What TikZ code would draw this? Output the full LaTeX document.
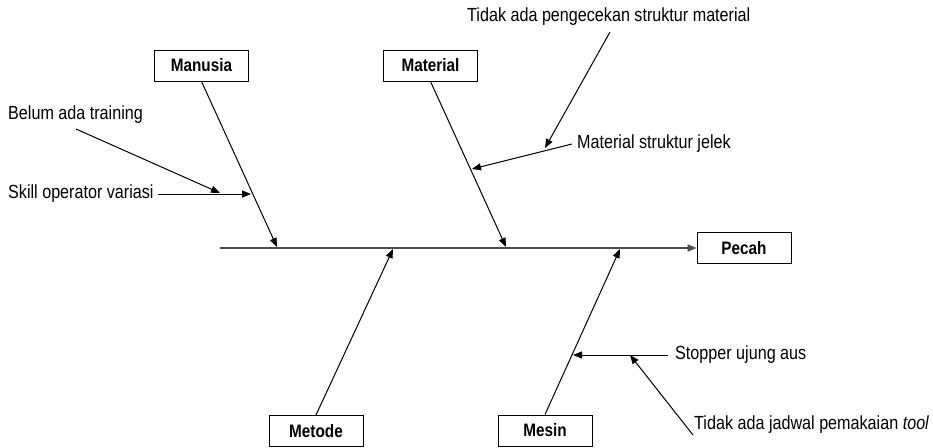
\documentclass[tikz,border=0pt]{standalone}
\usepackage{fontspec}
\setmainfont[FakeStretch=0.85]{Liberation Sans}
\usetikzlibrary{arrows.meta}
\begin{document}
\begin{tikzpicture}[x=1pt,y=-1pt,
  catbox/.style={draw,line width=1pt,minimum width=94pt,minimum height=31pt,
    inner sep=0pt,font=\fontsize{18}{21}\selectfont\bfseries},
  cause/.style={inner sep=0pt,anchor=west,font=\fontsize{19}{22}\selectfont},
  bone/.style={line width=1pt,-{Triangle[length=9pt,width=7pt]}},
  spine/.style={line width=1.6pt,black!70,-{Triangle[length=9pt,width=7pt]}}]
\useasboundingbox (0,0) rectangle (933,447);

% effect and category boxes
\node[catbox] (pecah)   at (744,248)   {Pecah};
\node[catbox] (manusia) at (201.5,65.5) {Manusia};
\node[catbox] (material) at (430.5,65.5) {Material};
\node[catbox] (metode)  at (316,431)   {Metode};
\node[catbox] (mesin)   at (545,430.5) {Mesin};

% cause labels
\node[cause] (belum)   at (8,115)  {Belum ada training};
\node[cause] (skill)   at (8,194)  {Skill operator variasi};
\node[cause] (cek)     at (467,17) {Tidak ada pengecekan struktur material};
\node[cause] (jelek)   at (577,144) {Material struktur jelek};
\node[cause] (stopper) at (675,355) {Stopper ujung aus};
\node[cause] (jadwal)  at (694,425) {Tidak ada jadwal pemakaian \textit{tool}};

% points on the spine and bones
\coordinate (s0) at (220,248);
\coordinate (hManusia) at (277,247);
\coordinate (hMaterial) at (506,247);
\coordinate (hMetode) at (393,249);
\coordinate (hMesin) at (620,249);
\coordinate (pSkill) at (251,194);
\coordinate (pBelum) at (220,193);
\coordinate (pJelek) at (472,169);
\coordinate (pCek) at (545,148);
\coordinate (pStopper) at (573,355);
\coordinate (pJadwal) at (630,355);
\coordinate (tSkill) at (158,194);
\coordinate (tBelum) at (76,129);
\coordinate (tJelek) at (572,144);
\coordinate (tCek) at (610,32);
\coordinate (tStopper) at (668,355);
\coordinate (tJadwal) at (693,435);

% spine
\draw[spine] (s0) -- (pecah.west);

% main bones
\draw[bone] (manusia.south) -- (hManusia);
\draw[bone] (material.south) -- (hMaterial);
\draw[bone] (metode.north) -- (hMetode);
\draw[bone] (mesin.north) -- (hMesin);

% sub-causes
\draw[bone] (tSkill) -- (pSkill);
\draw[bone] (tBelum) -- (pBelum);
\draw[bone] (tJelek) -- (pJelek);
\draw[bone] (tCek) -- (pCek);
\draw[bone] (tStopper) -- (pStopper);
\draw[bone] (tJadwal) -- (pJadwal);
\end{tikzpicture}
\end{document}
